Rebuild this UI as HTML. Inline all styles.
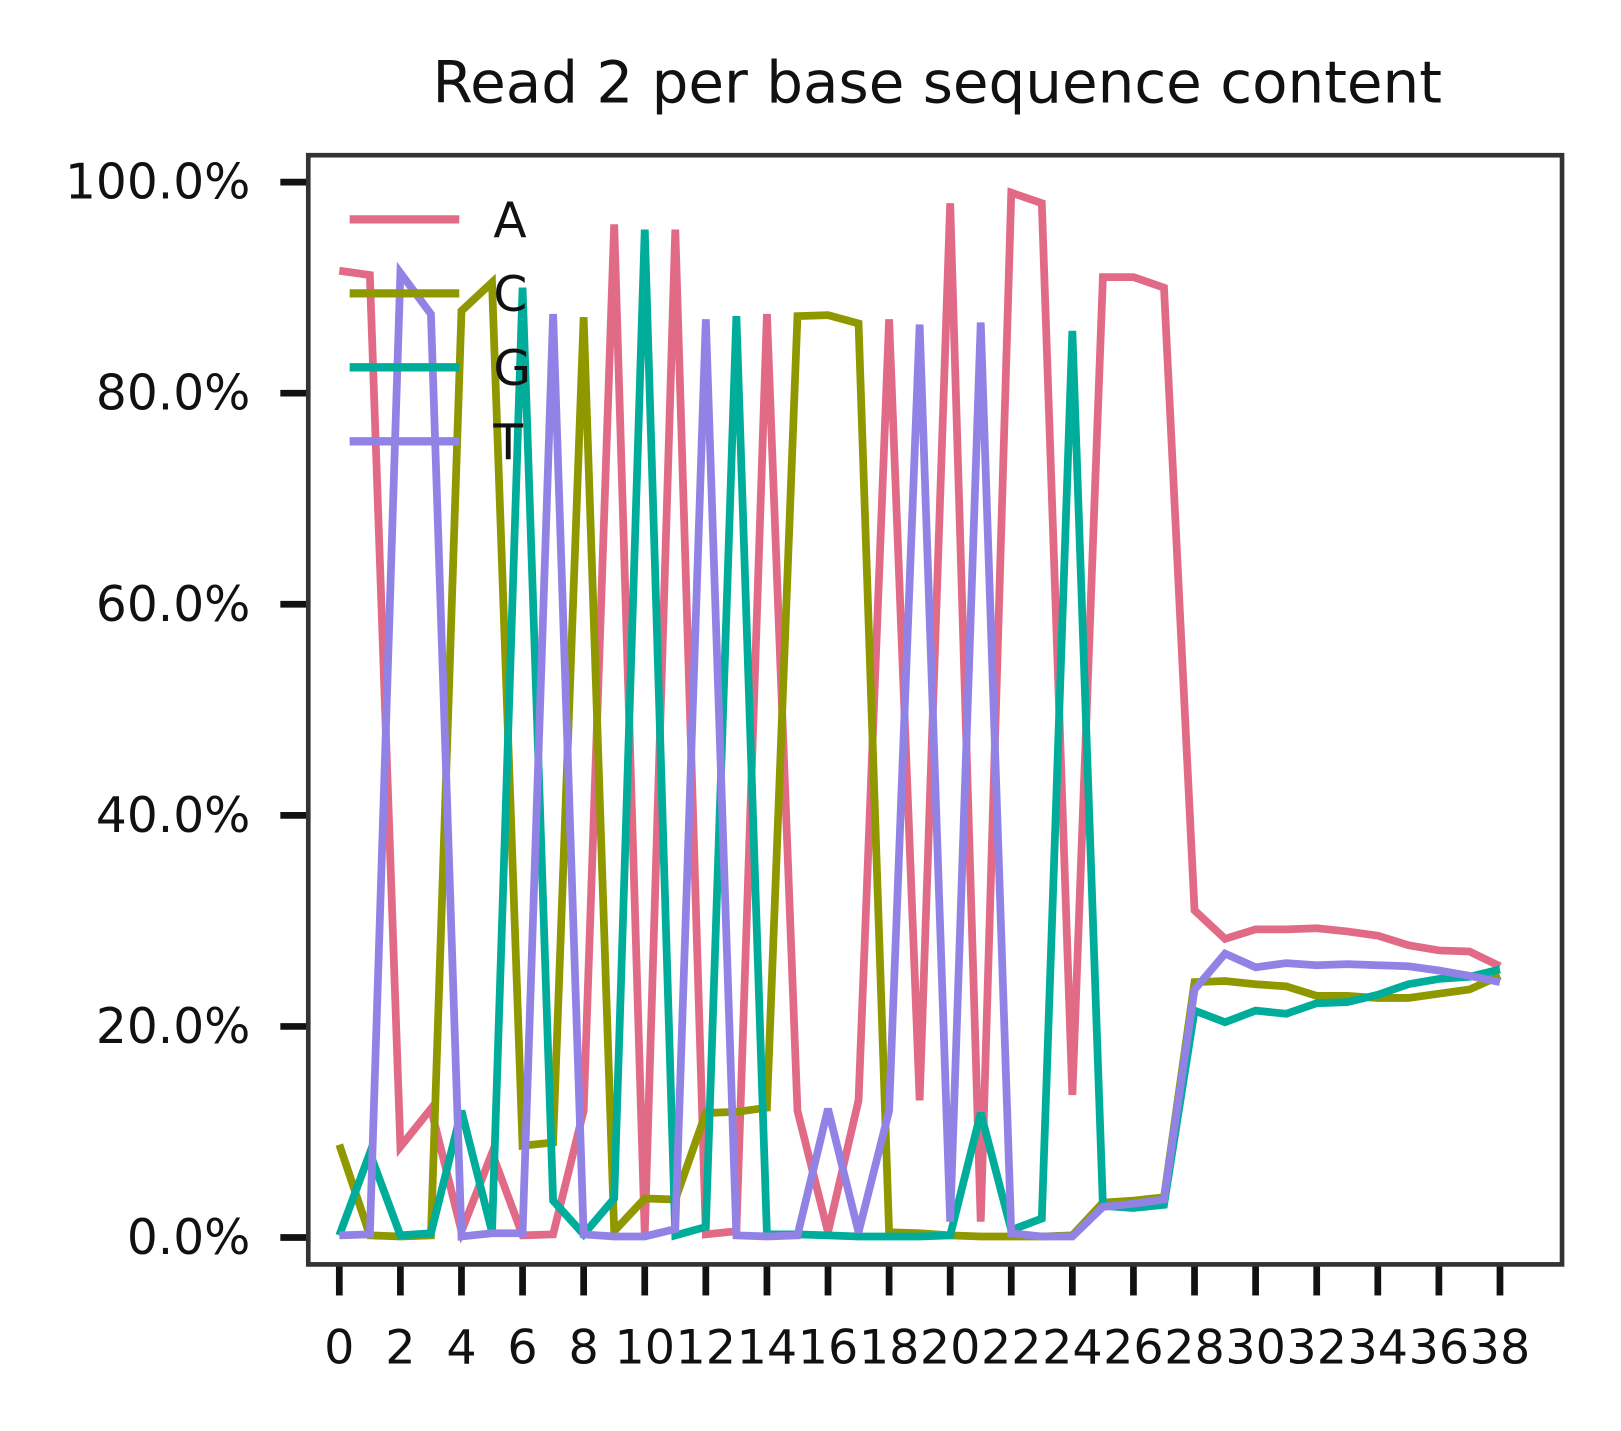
<!DOCTYPE html>
<html><head><meta charset="utf-8"><style>
body{margin:0;background:#fff}
svg{display:block;font-family:"DejaVu Sans","Liberation Sans",sans-serif}
</style></head><body>
<svg id="chart" width="1621" height="1431" viewBox="0 0 1567 1383" preserveAspectRatio="none" xmlns="http://www.w3.org/2000/svg">
<rect width="1567" height="1383" fill="#fff"/>
<text x="906" y="99" font-size="56" text-anchor="middle" fill="#111">Read 2 per base sequence content</text>
<g id="axes"></g>
<g id="series"></g>
<rect x="298" y="150" width="1212" height="1072" fill="none" stroke="#333" stroke-width="4.5"/>
<g id="legend"></g>
</svg>
<script>
const positions=[0,1,2,3,4,5,6,7,8,9,10,11,12,13,14,15,16,17,18,19,20,21,22,23,24,25,26,27,28,29,30,31,32,33,34,35,36,37,38];
const seriesA=[91.6,91.2,8.6,12.2,0.6,8,0.2,0.3,12,96,0.3,95.5,0.3,0.6,87.5,12,0.5,13,87,13,98,1.5,99,98,13.5,91,91,90,31,28.3,29.2,29.2,29.3,29,28.6,27.7,27.2,27.1,25.7];
const seriesC=[8.8,0.2,0.1,0.2,87.8,90.5,8.7,9,87.2,0.6,3.7,3.6,11.8,11.9,12.3,87.3,87.4,86.6,0.5,0.4,0.2,0.1,0.1,0.1,0.2,3.3,3.5,3.8,24.2,24.3,24,23.8,22.9,22.9,22.7,22.7,23.1,23.5,24.8];
const seriesG=[0.2,8,0.2,0.4,12,0.5,90,3.5,0.3,3.7,95.5,0.2,1,87.3,0.3,0.3,0.2,0.1,0.1,0.1,0.2,11.8,0.7,1.8,85.9,3,2.8,3.1,21.5,20.4,21.5,21.2,22.2,22.3,23,24,24.5,24.7,25.4];
const seriesT=[0.2,0.3,91.4,87.5,0.1,0.4,0.4,87.5,0.3,0.1,0.1,0.8,87,0.2,0.1,0.2,12.2,0.5,12,86.5,1.5,86.7,0.4,0.1,0.1,2.9,3.2,3.6,23.5,26.9,25.6,26,25.8,25.9,25.8,25.7,25.3,24.8,24.2];
const yTicks=[0,20,40,60,80,100];
const yTickLabels=["0.0%","20.0%","40.0%","60.0%","80.0%","100.0%"];
const xTicks=[0,2,4,6,8,10,12,14,16,18,20,22,24,26,28,30,32,34,36,38];
const seriesNames=["A","C","G","T"];
const seriesColors=["#e16a86","#909800","#00ad9a","#9183e6"];
const NS="http://www.w3.org/2000/svg";
const xs=v=>328+(1450-328)*v/38;
const ys=v=>1196-10.2*v;
function mk(t,a,p){const e=document.createElementNS(NS,t);for(const k in a)e.setAttribute(k,a[k]);p.appendChild(e);return e;}
const ax=document.getElementById('axes');
yTicks.forEach((v,i)=>{
 const l=mk('line',{x1:271,x2:297,y1:ys(v),y2:ys(v),stroke:'#111','stroke-width':6.5},ax);
 
 
 const t=mk('text',{x:242,y:ys(v)+16,'font-size':47,'text-anchor':'end',fill:'#111'},ax);
 t.textContent=yTickLabels[i];
 
 
});
xTicks.forEach(v=>{
 const l=mk('line',{x1:xs(v),x2:xs(v),y1:1224,y2:1252,stroke:'#111','stroke-width':6.5},ax);
 
 
 const t=mk('text',{x:xs(v),y:1318,'font-size':46,'text-anchor':'middle',fill:'#111'},ax);
 t.textContent=String(v);
 
 
});
const sg=document.getElementById('series');
[seriesA,seriesC,seriesG,seriesT].forEach((s,i)=>{
 const pts=s.map((v,j)=>xs(positions[j])+','+ys(v)).join(' ');
 const p=mk('polyline',{points:pts,fill:'none',stroke:seriesColors[i],'stroke-width':7.5,'stroke-linejoin':'miter'},sg);
 
 
});
const lg=document.getElementById('legend');
seriesNames.forEach((n,i)=>{
 const y=212+71.5*i;
 const l=mk('line',{x1:338,x2:444,y1:y,y2:y,stroke:seriesColors[i],'stroke-width':8},lg);
 
 
 const t=mk('text',{x:477,y:y+17,'font-size':47,fill:'#111'},lg);
 t.textContent=n;
 
 
});
</script>
</body></html>
